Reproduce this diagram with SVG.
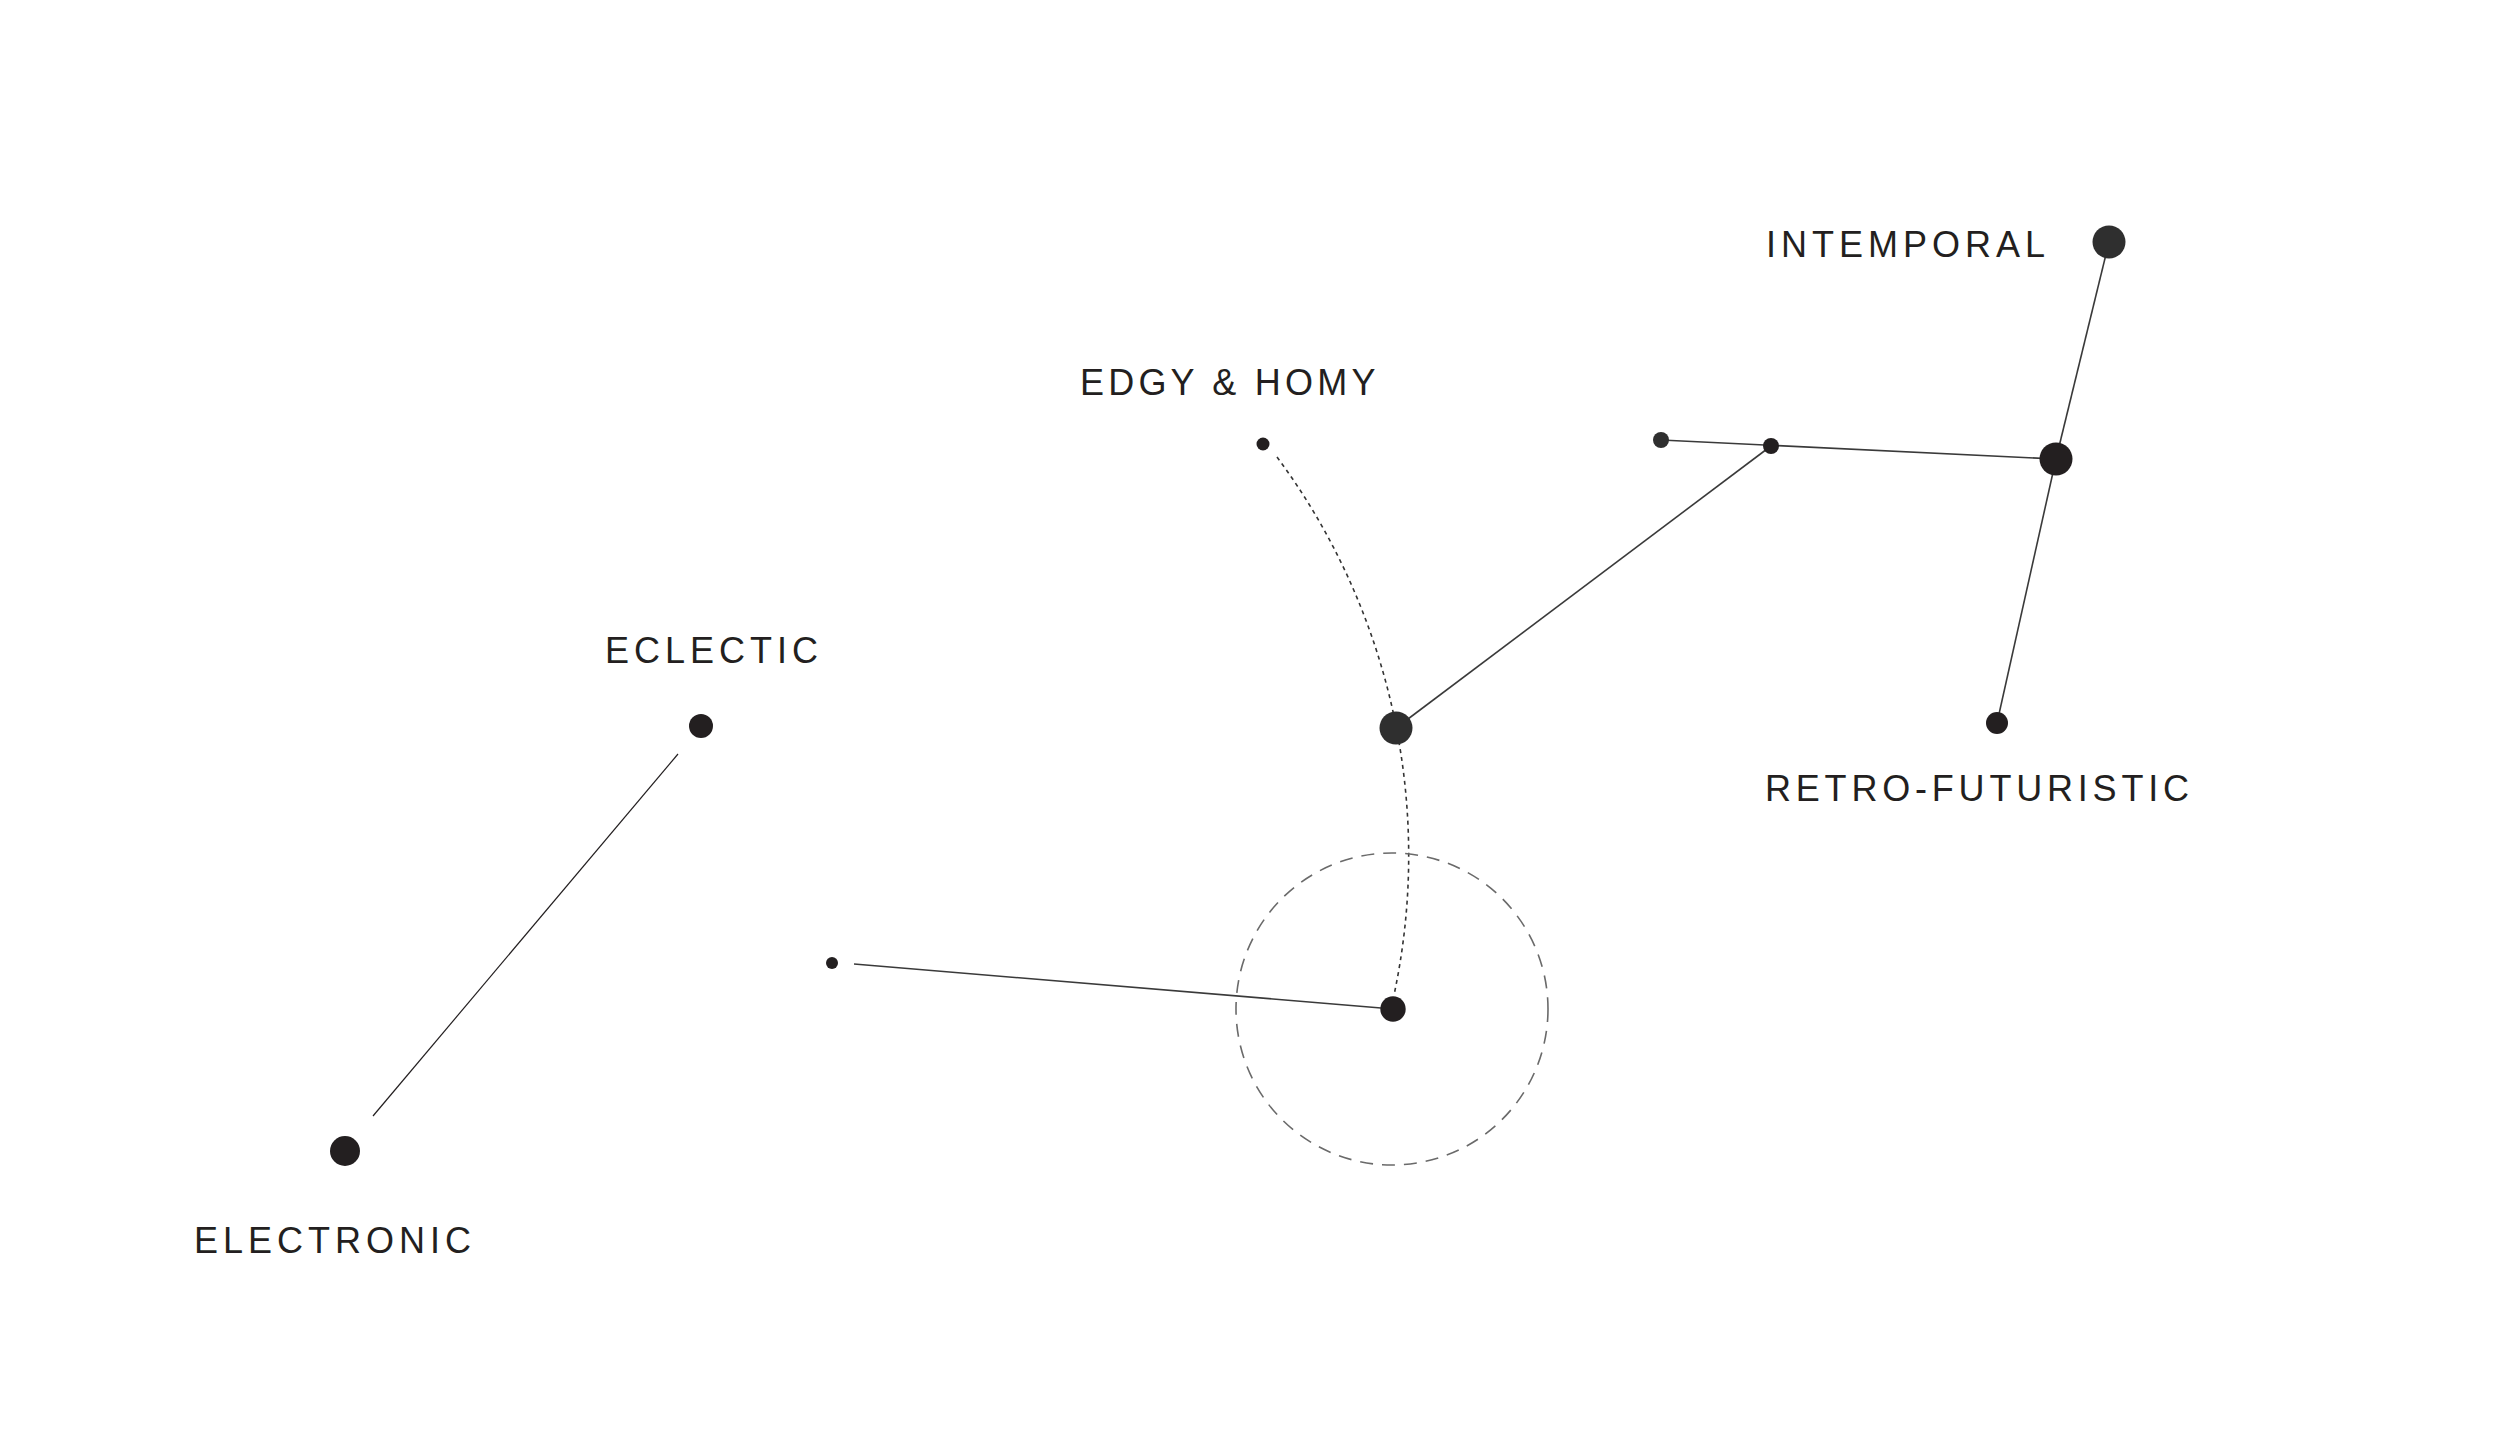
<svg xmlns="http://www.w3.org/2000/svg" width="2500" height="1455" viewBox="0 0 2500 1455">
<style>
.bg{fill:#ffffff}
.lbl{font-family:"Liberation Sans",Arial,sans-serif;font-size:36px;fill:#231f20;letter-spacing:5px}
.tight{letter-spacing:4.2px}
.dot{fill:#231f20}
.dot2{fill:#2f2f2f}
.ln{stroke:#3a3a3a;stroke-width:1.6;fill:none}
.ln-thin{stroke:#231f20;stroke-width:1.2;fill:none}
.dotted{stroke:#333;stroke-width:1.6;fill:none;stroke-dasharray:4 4}
.ring{stroke:#6a6a6a;stroke-width:1.6;fill:none;stroke-dasharray:13 9}
</style>
<rect class="bg" x="0" y="0" width="2500" height="1455"/>
<g id="connectors">
<line class="ln" x1="2109" y1="242" x2="2056" y2="459"/>
<line class="ln" x1="2056" y1="459" x2="1997" y2="723"/>
<line class="ln" x1="1661" y1="440" x2="2056" y2="459"/>
<line class="ln" x1="1771" y1="446" x2="1396" y2="728"/>
<line class="ln" x1="854" y1="964" x2="1393" y2="1009"/>
<line class="ln-thin" x1="678" y1="754" x2="373" y2="1116"/>
<path class="dotted" d="M1277,457 A669,669 0 0 1 1394,995"/>
<circle class="ring" cx="1392" cy="1009" r="156"/>
</g>
<g id="node-intemporal">
<circle class="dot2" cx="2109" cy="242" r="16.5"/>
<text class="lbl" x="1766" y="257">INTEMPORAL</text>
</g>
<g id="node-hub-right">
<circle class="dot" cx="2056" cy="459" r="16.5"/>
</g>
<g id="node-retro">
<circle class="dot" cx="1997" cy="723" r="11"/>
<text class="lbl tight" x="1765" y="801" style="letter-spacing:4.8px">RETRO-FUTURISTIC</text>
</g>
<g id="node-small-a">
<circle class="dot2" cx="1661" cy="440" r="8"/>
</g>
<g id="node-small-b">
<circle class="dot" cx="1771" cy="446" r="8"/>
</g>
<g id="node-edgy">
<circle class="dot" cx="1263" cy="444" r="6.5"/>
<text class="lbl tight" x="1080" y="395">EDGY &amp; HOMY</text>
</g>
<g id="node-mid">
<circle class="dot2" cx="1396" cy="728" r="16.5"/>
</g>
<g id="node-center">
<circle class="dot" cx="1393" cy="1009" r="12.7"/>
</g>
<g id="node-small-c">
<circle class="dot" cx="832" cy="963" r="6"/>
</g>
<g id="node-eclectic">
<circle class="dot" cx="701" cy="726" r="12"/>
<text class="lbl" x="605" y="663">ECLECTIC</text>
</g>
<g id="node-electronic">
<circle class="dot" cx="345" cy="1151" r="15"/>
<text class="lbl" x="194" y="1253">ELECTRONIC</text>
</g>
</svg>
